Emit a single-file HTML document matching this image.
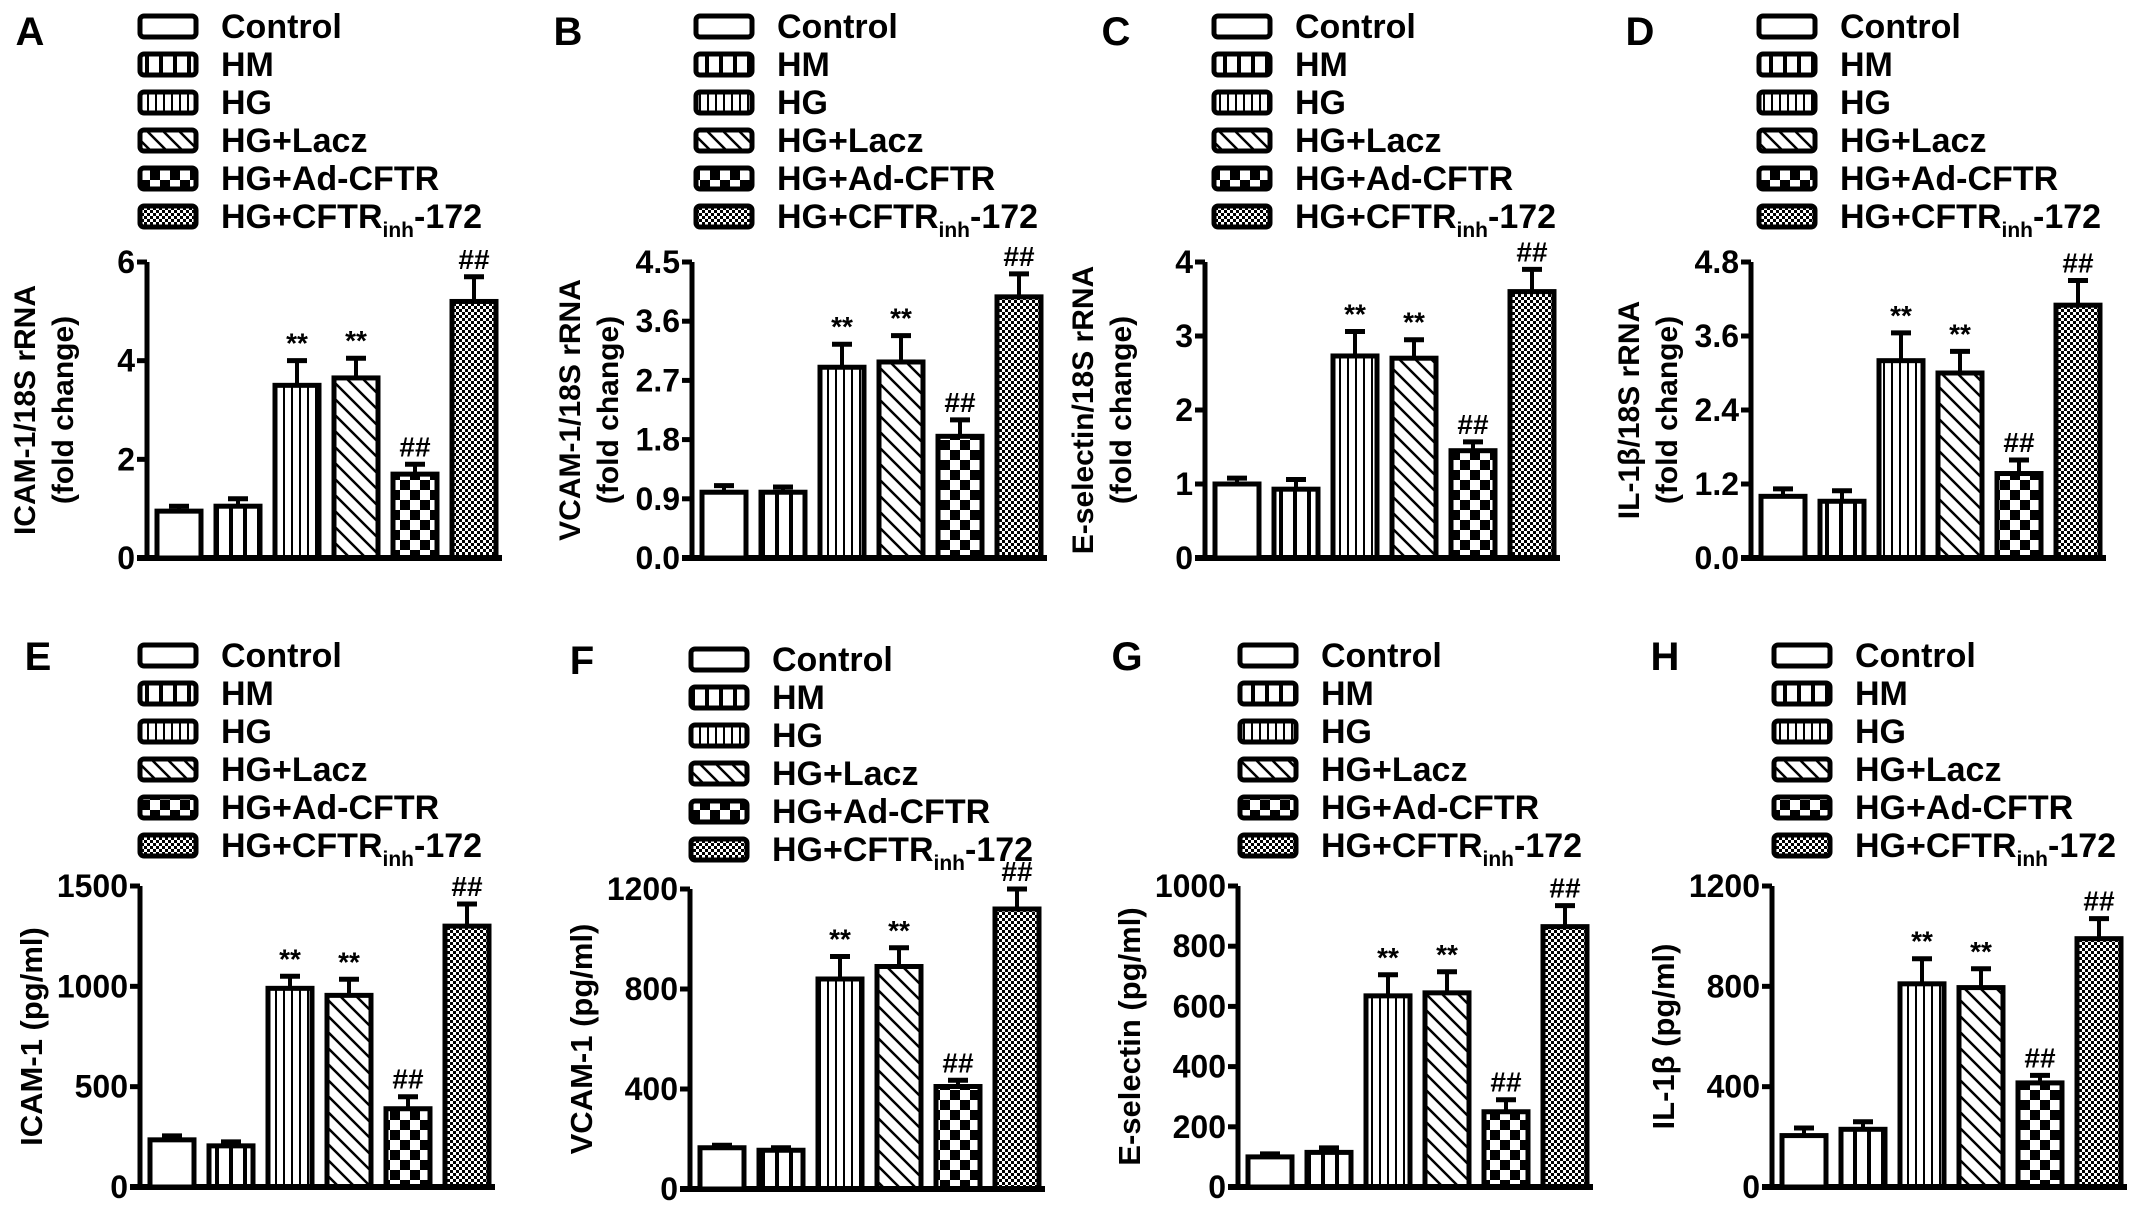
<!DOCTYPE html>
<html><head><meta charset="utf-8"><style>
html,body{margin:0;padding:0;background:#fff;}
svg{display:block;font-family:"Liberation Sans",Arial,sans-serif;font-weight:bold;}
</style></head><body>
<svg id="fig" width="2150" height="1211" viewBox="0 0 2150 1211">
<defs>
<pattern id="p-hm" patternUnits="userSpaceOnUse" width="14" height="24"><path d="M7 0V24" stroke="#000" stroke-width="4"/></pattern>
<pattern id="p-hg" patternUnits="userSpaceOnUse" width="8" height="8"><path d="M4 0V8" stroke="#000" stroke-width="2"/></pattern>
<pattern id="p-lacz" patternUnits="userSpaceOnUse" width="16" height="16"><path d="M-4 -4L20 20M-4 12L4 20M12 -4L20 4" stroke="#000" stroke-width="2.5"/></pattern>
<pattern id="p-ad" patternUnits="userSpaceOnUse" width="20" height="20"><rect x="0" y="0" width="10" height="10" fill="#000"/><rect x="10" y="10" width="10" height="10" fill="#000"/></pattern>
<pattern id="p-inh" patternUnits="userSpaceOnUse" width="6" height="6"><rect x="0" y="0" width="3" height="3" fill="#000"/><rect x="3" y="3" width="3" height="3" fill="#000"/></pattern>
</defs>
</svg>
<script>
const groups = ["Control","HM","HG","HG+Lacz","HG+Ad-CFTR","HG+CFTRinh-172"];
const valsA = [0.95,1.05,3.5,3.65,1.7,5.2];
const errA  = [0.1,0.15,0.5,0.4,0.2,0.5];
const valsB = [1.0,1.0,2.9,2.98,1.85,3.97];
const errB  = [0.1,0.08,0.35,0.4,0.25,0.35];
const valsC = [1.0,0.93,2.73,2.7,1.45,3.6];
const errC  = [0.08,0.13,0.33,0.25,0.12,0.3];
const valsD = [1.0,0.92,3.2,3.0,1.37,4.1];
const errD  = [0.12,0.17,0.45,0.35,0.22,0.4];
const valsE = [235,205,990,955,390,1300];
const errE  = [20,20,60,80,60,110];
const valsF = [165,155,840,890,410,1120];
const errF  = [10,10,90,75,25,80];
const valsG = [100,115,635,645,250,865];
const errG  = [10,15,70,70,40,70];
const valsH = [205,230,810,795,415,990];
const errH  = [30,30,100,75,30,80];
const ticksA = ["0","2","4","6"];
const ticksB = ["0.0","0.9","1.8","2.7","3.6","4.5"];
const ticksC = ["0","1","2","3","4"];
const ticksD = ["0.0","1.2","2.4","3.6","4.8"];
const ticksE = ["0","500","1000","1500"];
const ticksF = ["0","400","800","1200"];
const ticksG = ["0","200","400","600","800","1000"];
const ticksH = ["0","400","800","1200"];
const marks = ["","","**","**","##","##"];

const NS="http://www.w3.org/2000/svg";
const svg=document.getElementById('fig');
const fills=["#fff","url(#p-hm)","url(#p-hg)","url(#p-lacz)","url(#p-ad)","url(#p-inh)"];
function mk(tag,attrs,parent){const e=document.createElementNS(NS,tag);for(const k in attrs)e.setAttribute(k,attrs[k]);(parent||svg).appendChild(e);return e;}

const panels=[
 {id:"a",letter:"A",ax:147,top:262,zero:558,lx:30,ly:30,legX:138,legY:26,vals:valsA,err:errA,ticks:ticksA,t1:"ICAM-1/18S rRNA",t2:"(fold change)"},
 {id:"b",letter:"B",ax:692,top:262,zero:558,lx:568,ly:30,legX:694,legY:26,vals:valsB,err:errB,ticks:ticksB,t1:"VCAM-1/18S rRNA",t2:"(fold change)"},
 {id:"c",letter:"C",ax:1205,top:262,zero:558,lx:1116,ly:30,legX:1212,legY:26,vals:valsC,err:errC,ticks:ticksC,t1:"E-selectin/18S rRNA",t2:"(fold change)"},
 {id:"d",letter:"D",ax:1751,top:262,zero:558,lx:1640,ly:30,legX:1757,legY:26,vals:valsD,err:errD,ticks:ticksD,t1:"IL-1β/18S rRNA",t2:"(fold change)"},
 {id:"e",letter:"E",ax:140,top:886,zero:1187,lx:38,ly:655,legX:138,legY:655,vals:valsE,err:errE,ticks:ticksE,t1:"ICAM-1  (pg/ml)"},
 {id:"f",letter:"F",ax:690,top:889,zero:1189,lx:582,ly:659,legX:689,legY:659,vals:valsF,err:errF,ticks:ticksF,t1:"VCAM-1  (pg/ml)"},
 {id:"g",letter:"G",ax:1238,top:886,zero:1187,lx:1127,ly:655,legX:1238,legY:655,vals:valsG,err:errG,ticks:ticksG,t1:"E-selectin (pg/ml)"},
 {id:"h",letter:"H",ax:1772,top:886,zero:1187,lx:1665,ly:655,legX:1772,legY:655,vals:valsH,err:errH,ticks:ticksH,t1:"IL-1β (pg/ml)"}
];

panels.forEach(p=>{
 const g=mk('g',{});
 
 
 const lab=mk('text',{x:p.lx,y:p.ly+15,'font-size':40,'text-anchor':'middle'},g);
 lab.textContent=p.letter;
 
 
 groups.forEach((name,i)=>{
  const y=p.legY+i*38;
  const le=mk('g',{},g);
  
  
  mk('rect',{x:p.legX+2,y:y-10,width:56,height:21,rx:4,fill:fills[i],stroke:"#000","stroke-width":5},le);
  const t=mk('text',{x:p.legX+83,y:y+12,'font-size':34},le);
  if(i===5){t.innerHTML='HG+CFTR<tspan font-size="21" dy="9">inh</tspan><tspan dy="-9">-172</tspan>';}
  else t.textContent=name;
 });
 const maxV=parseFloat(p.ticks[p.ticks.length-1]);
 const h=p.zero-p.top;
 const yS=v=>p.zero-v/maxV*h;
 const yax=mk('line',{x1:p.ax,y1:p.top,x2:p.ax,y2:p.zero+3,stroke:"#000","stroke-width":5},g);
 
 
 const xax=mk('line',{x1:p.ax-10,y1:p.zero,x2:p.ax+355,y2:p.zero,stroke:"#000","stroke-width":6},g);
 
 
 p.ticks.forEach(tk=>{
  const y=yS(parseFloat(tk));
  mk('line',{x1:p.ax-10,y1:y,x2:p.ax,y2:y,stroke:"#000","stroke-width":5},g);
  const t=mk('text',{x:p.ax-12,y:y+11,'font-size':32,'text-anchor':'end'},g);
  t.textContent=tk;
  
  
 });
 const cy=(p.top+p.zero)/2;
 if(p.t2){
  const t1=mk('text',{x:0,y:0,'font-size':30,'text-anchor':'middle',transform:`translate(${p.ax-112},${cy}) rotate(-90)`},g);
  t1.textContent=p.t1;
  
  
  const t2=mk('text',{x:0,y:0,'font-size':30,'text-anchor':'middle',transform:`translate(${p.ax-74},${cy}) rotate(-90)`},g);
  t2.textContent=p.t2;
 } else {
  const t1=mk('text',{x:0,y:0,'font-size':31,'text-anchor':'middle',transform:`translate(${p.ax-98},${cy}) rotate(-90)`},g);
  t1.textContent=p.t1;
  
  
 }
 p.vals.forEach((v,i)=>{
  const x=p.ax+10+i*59, w=44;
  const y=yS(v);
  const eTop=yS(v+p.err[i]);
  const cx=x+w/2;
  mk('line',{x1:cx,y1:y,x2:cx,y2:eTop,stroke:"#000","stroke-width":4},g);
  mk('line',{x1:cx-10,y1:eTop,x2:cx+10,y2:eTop,stroke:"#000","stroke-width":5},g);
  const b=mk('rect',{x:x,y:y,width:w,height:p.zero-y,fill:fills[i],stroke:"#000","stroke-width":5},g);
  
  
  if(marks[i]){
   const m=mk('text',{x:cx,y:eTop-8,'font-size':28,'text-anchor':'middle'},g);
   m.textContent=marks[i];
   
   
  }
 });
});
</script>
</body></html>
